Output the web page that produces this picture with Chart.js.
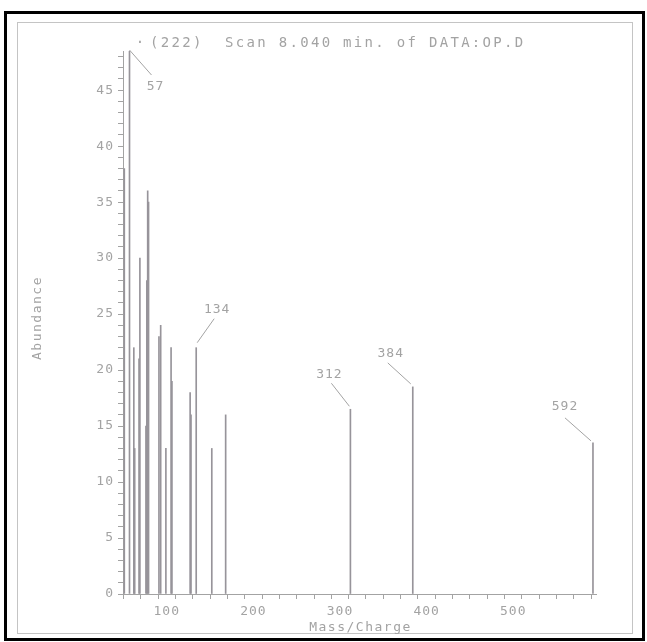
<!DOCTYPE html>
<html>
<head>
<meta charset="utf-8">
<title>Scan 8.040 min. of DATA:OP.D</title>
<script src="https://cdn.jsdelivr.net/npm/chart.js@4.4.1/dist/chart.umd.min.js"></script>
<style>
    html, body { margin: 0; padding: 0; background: #fff; }
    .outer { position: absolute; left: 4px; top: 11px; width: 641px; height: 630px; box-sizing: border-box; border: 3px solid #000; }
    .inner { position: absolute; left: 17px; top: 22px; width: 616px; height: 612px; box-sizing: border-box; border: 1px solid #c4c4c4; }
    .wrap { position: absolute; left: 0; top: 0; width: 647px; height: 642px; }
</style>
</head>
<body>
<div class="outer"></div>
<div class="inner"></div>
<div class="wrap"><canvas id="spectrumChart"></canvas></div>
<script>
// Peaks
const massCharge = [51, 57, 62, 63, 68, 69, 76, 77, 78, 79, 91, 93, 99, 105, 106, 127, 128, 134, 152, 168, 312, 384, 592];
const abundance  = [38, 48.5, 22, 13, 21, 30, 15, 28, 36, 35, 23, 24, 13, 22, 19, 18, 16, 22, 13, 16, 16.5, 18.5, 13.5];
const labeledPeaks = [57, 134, 312, 384, 592];

const chartTitle = "(222)  Scan 8.040 min. of DATA:OP.D";
const xTitle = "Mass/Charge";
const yTitle = "Abundance";

const ink = "#a3a3a3";
const peakInk = "#97949a";

// leader line + label offsets (px) relative to the top of each labelled peak
const labelStyle = {
    57:  { from: [0, -1], to: [22, 24],  text: [26, 36] },
    134: { from: [1, -5], to: [18, -29], text: [21, -38] },
    312: { from: [-1, -3], to: [-19, -26], text: [-21, -35] },
    384: { from: [-2, -3], to: [-25, -24], text: [-22, -33] },
    592: { from: [-2, -2], to: [-28, -25], text: [-28, -36] }
};

/** Draws title, axis titles and peak labels on top of the chart. */
const annotations = {
    id: "annotations",
    beforeDraw(chart) {
        chart.ctx.letterSpacing = "1px";
    },
    afterDraw(chart) {
        const ctx = chart.ctx;
        const x = chart.scales.x;
        const y = chart.scales.y;

        ctx.save();
        ctx.fillStyle = ink;
        ctx.strokeStyle = ink;
        ctx.lineWidth = 1;
        ctx.textBaseline = "middle";

        // title
        ctx.font = "14px 'DejaVu Sans Mono'";
        ctx.letterSpacing = "2.3px";
        ctx.textAlign = "center";
        ctx.fillText("·", 141, 43);
        ctx.textAlign = "left";
        ctx.fillText(chartTitle, 150, 43);

        // axis titles
        ctx.font = "13px 'DejaVu Sans Mono'";
        ctx.letterSpacing = "1.5px";
        ctx.textAlign = "center";
        ctx.fillText(xTitle, (x.left + x.right) / 2 + 1, 628);
        ctx.save();
        ctx.translate(38, 318);
        ctx.rotate(-Math.PI / 2);
        ctx.fillText(yTitle, 0, 0);
        ctx.restore();

        // peak labels
        ctx.letterSpacing = "1px";
        labeledPeaks.forEach(mz => {
            const i = massCharge.indexOf(mz);
            const s = labelStyle[mz];
            const px = x.getPixelForValue(mz);
            const py = y.getPixelForValue(Math.min(abundance[i], y.max));
            ctx.beginPath();
            ctx.moveTo(px + s.from[0], py + s.from[1]);
            ctx.lineTo(px + s.to[0], py + s.to[1]);
            ctx.stroke();
            ctx.fillText(String(mz), px + s.text[0], py + s.text[1]);
        });
        ctx.restore();
    }
};

/** Builds the mass spectrum as thin bars on a linear m/z axis. */
function createSpectrum() {
    const ctx = document.getElementById("spectrumChart");

    new Chart(ctx, {
        type: "bar",
        data: {
            datasets: [{
                data: massCharge.map((m, i) => ({ x: m, y: abundance[i] })),
                backgroundColor: peakInk,
                borderWidth: 0,
                barThickness: 1
            }]
        },
        options: {
            responsive: true,
            maintainAspectRatio: false,
            animation: false,
            layout: { padding: { left: 63, right: 51, top: 51, bottom: 0 } },
            plugins: {
                legend: { display: false },
                tooltip: { enabled: false }
            },
            scales: {
                x: {
                    type: "linear",
                    min: 49.5,
                    max: 595.5,
                    offset: false,
                    afterFit: s => { s.height = 48; },
                    border: { color: ink, width: 1 },
                    grid: { drawOnChartArea: false, drawTicks: true, tickLength: 5, color: ink },
                    ticks: {
                        stepSize: 20,
                        includeBounds: false,
                        autoSkip: false,
                        maxRotation: 0,
                        padding: 5,
                        color: ink,
                        font: { family: "'DejaVu Sans Mono'", size: 13 },
                        callback: v => (v % 100 === 0 ? String(v) : "")
                    }
                },
                y: {
                    min: 0,
                    max: 48.5,
                    afterFit: s => { s.width = 60; },
                    border: { color: ink, width: 1 },
                    grid: { drawOnChartArea: false, drawTicks: true, tickLength: 5, color: ink },
                    ticks: {
                        stepSize: 1,
                        includeBounds: false,
                        autoSkip: false,
                        padding: 4,
                        color: ink,
                        font: { family: "'DejaVu Sans Mono'", size: 13 },
                        callback: v => (v % 5 === 0 ? String(v) : "")
                    }
                }
            }
        },
        plugins: [annotations]
    });
}

createSpectrum();
</script>
</body>
</html>
